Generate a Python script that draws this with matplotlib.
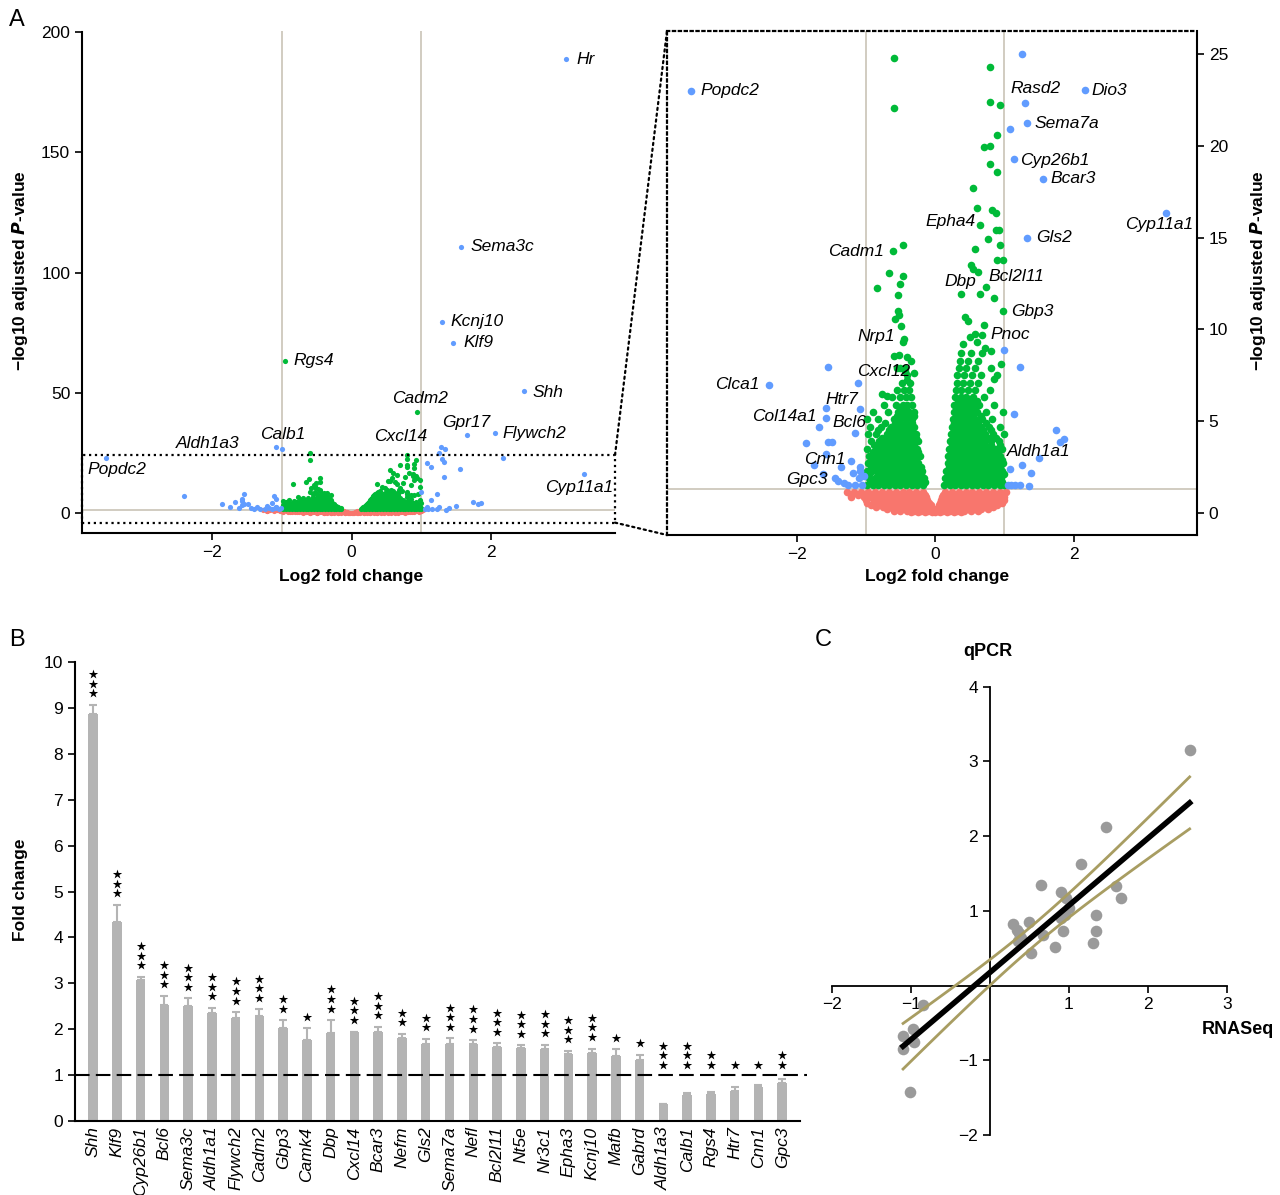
import matplotlib
matplotlib.use('Agg')
import matplotlib.pyplot as plt
import numpy as np
from matplotlib.patches import Rectangle, ConnectionPatch

plt.rcParams['font.family'] = ['Liberation Sans', 'DejaVu Sans']
plt.rcParams['axes.linewidth'] = 1.5

# ---------------- Panel A data (log2 FC, -log10 adj P) ----------------
# non-significant cloud (red), typed row by row
red_rows_y = [1.15, 1.0, 0.85, 0.7, 0.55, 0.42, 0.30, 0.2, 0.10, 0.03]
red_rows_x = [
    [-1.27, -1.17, -1.07, -0.97, -0.87, -0.77, -0.67, -0.57, -0.47, -0.37, -0.27, -0.17,
     0.14, 0.24, 0.34, 0.44, 0.54, 0.64, 0.74, 0.84, 0.94, 1.02],
    [-1.22, -1.12, -1.02, -0.92, -0.82, -0.72, -0.62, -0.52, -0.42, -0.32, -0.22, -0.14,
     0.12, 0.19, 0.29, 0.39, 0.49, 0.59, 0.69, 0.79, 0.89, 0.98],
    [-1.22, -1.03, -0.93, -0.83, -0.73, -0.63, -0.53, -0.43, -0.33, -0.23, -0.13,
     0.10, 0.20, 0.30, 0.40, 0.50, 0.60, 0.70, 0.80, 0.90, 0.99],
    [-1.00, -0.88, -0.78, -0.68, -0.58, -0.48, -0.38, -0.28, -0.18, -0.11,
     0.08, 0.15, 0.25, 0.35, 0.45, 0.55, 0.65, 0.75, 0.85, 0.95, 1.00],
    [-0.98, -0.88, -0.78, -0.68, -0.58, -0.48, -0.38, -0.28, -0.18, -0.09,
     0.07, 0.16, 0.26, 0.36, 0.46, 0.56, 0.66, 0.76, 0.86, 0.96],
    [-0.92, -0.82, -0.72, -0.62, -0.52, -0.42, -0.32, -0.22, -0.12, -0.06,
     0.06, 0.11, 0.21, 0.31, 0.41, 0.51, 0.61, 0.71, 0.81, 0.90],
    [-0.85, -0.75, -0.65, -0.55, -0.45, -0.35, -0.25, -0.15, -0.06,
     0.05, 0.14, 0.24, 0.34, 0.44, 0.54, 0.64, 0.74, 0.84],
    [-0.70, -0.60, -0.50, -0.40, -0.30, -0.20, -0.10, -0.04,
     0.02, 0.09, 0.17, 0.27, 0.37, 0.47, 0.57, 0.67, 0.77],
    [-0.60, -0.50, -0.40, -0.30, -0.20, -0.10, -0.02, 0.04, 0.12, 0.22, 0.32, 0.42, 0.52, 0.62],
    [-0.35, -0.25, -0.15, -0.05, 0.00, 0.07, 0.17, 0.27, 0.37],
]

# significant, |log2FC| < 1 (green): dense part typed in rows
green_rows_y = [1.5, 1.7, 1.9, 2.1, 2.3, 2.5, 2.7, 2.9, 3.1, 3.3, 3.5, 3.7, 3.9, 4.1, 4.3, 4.5,
                4.7, 4.9, 5.1, 5.3, 5.5, 5.7, 5.9, 6.1, 6.3, 6.7, 7.1, 7.5, 7.9, 8.3, 8.7]
green_rows_x = [
    [-0.98, -0.90, -0.82, -0.74, -0.66, -0.58, -0.50, -0.42, -0.34, -0.26, -0.18,
     0.13, 0.21, 0.29, 0.37, 0.45, 0.53, 0.61, 0.69, 0.77, 0.85, 0.93, 0.99],
    [-0.94, -0.86, -0.78, -0.70, -0.62, -0.54, -0.46, -0.38, -0.30, -0.22, -0.15,
     0.17, 0.25, 0.33, 0.41, 0.49, 0.57, 0.65, 0.73, 0.81, 0.89, 0.97],
    [-0.96, -0.87, -0.79, -0.71, -0.63, -0.55, -0.47, -0.39, -0.31, -0.23, -0.16,
     0.15, 0.23, 0.31, 0.39, 0.47, 0.55, 0.63, 0.71, 0.79, 0.87, 0.95],
    [-0.95, -0.83, -0.75, -0.67, -0.59, -0.51, -0.43, -0.35, -0.27, -0.20,
     0.19, 0.27, 0.35, 0.43, 0.51, 0.59, 0.67, 0.75, 0.83, 0.91, 0.99],
    [-0.99, -0.91, -0.83, -0.75, -0.67, -0.59, -0.51, -0.43, -0.35, -0.27, -0.19,
     0.16, 0.24, 0.32, 0.40, 0.48, 0.56, 0.64, 0.72, 0.80, 0.88, 0.97],
    [-0.93, -0.85, -0.77, -0.69, -0.61, -0.53, -0.45, -0.37, -0.29, -0.21,
     0.20, 0.28, 0.36, 0.44, 0.52, 0.60, 0.68, 0.76, 0.84, 0.93],
    [-0.97, -0.88, -0.80, -0.72, -0.64, -0.56, -0.48, -0.40, -0.32, -0.24,
     0.18, 0.26, 0.34, 0.42, 0.50, 0.58, 0.66, 0.74, 0.82, 0.90, 0.98],
    [-0.92, -0.84, -0.76, -0.68, -0.60, -0.52, -0.44, -0.36, -0.28,
     0.22, 0.30, 0.38, 0.46, 0.54, 0.62, 0.70, 0.78, 0.87, 0.96],
    [-0.95, -0.86, -0.77, -0.69, -0.61, -0.53, -0.45, -0.37, -0.29, -0.22,
     0.19, 0.27, 0.35, 0.43, 0.51, 0.59, 0.67, 0.75, 0.83, 0.93],
    [-0.90, -0.81, -0.73, -0.65, -0.57, -0.49, -0.41, -0.33, -0.25,
     0.23, 0.31, 0.39, 0.47, 0.55, 0.63, 0.71, 0.79, 0.89],
    [-0.98, -0.84, -0.75, -0.66, -0.58, -0.50, -0.42, -0.34, -0.26,
     0.20, 0.28, 0.36, 0.44, 0.52, 0.60, 0.68, 0.76, 0.86, 0.97],
    [-0.88, -0.79, -0.70, -0.62, -0.54, -0.46, -0.38, -0.30,
     0.24, 0.32, 0.40, 0.48, 0.56, 0.64, 0.72, 0.81, 0.94],
    [-0.92, -0.81, -0.72, -0.63, -0.55, -0.47, -0.39, -0.31, -0.25,
     0.22, 0.30, 0.38, 0.46, 0.54, 0.62, 0.70, 0.80, 0.92],
    [-0.76, -0.67, -0.59, -0.51, -0.43, -0.35, -0.28,
     0.26, 0.34, 0.42, 0.50, 0.58, 0.66, 0.76, 0.88],
    [-0.97, -0.86, -0.70, -0.60, -0.52, -0.44, -0.36, -0.28,
     0.23, 0.31, 0.39, 0.47, 0.55, 0.63, 0.72, 0.84, 0.99],
    [-0.82, -0.66, -0.57, -0.49, -0.41, -0.33,
     0.27, 0.35, 0.43, 0.51, 0.59, 0.69, 0.80],
    [-0.94, -0.78, -0.64, -0.55, -0.46, -0.38, -0.30,
     0.25, 0.33, 0.41, 0.49, 0.57, 0.66, 0.78, 0.93],
    [-0.72, -0.58, -0.50, -0.42, -0.34,
     0.28, 0.37, 0.45, 0.53, 0.62, 0.74],
    [-0.99, -0.83, -0.60, -0.50, -0.42, -0.33,
     0.26, 0.34, 0.42, 0.50, 0.58, 0.68, 0.82],
    [-0.55, -0.47, -0.39, -0.31,
     0.30, 0.38, 0.46, 0.55, 0.66],
    [-0.90, -0.68, -0.53, -0.45, -0.37, -0.30,
     0.27, 0.35, 0.43, 0.51, 0.60, 0.73, 0.98],
    [-0.50, -0.42,
     0.31, 0.40, 0.49, 0.58],
    [-0.74, -0.56, -0.47, -0.40, -0.33,
     0.28, 0.36, 0.44, 0.53, 0.64, 0.85],
    [0.33, 0.42, 0.51, 0.61],
    [-0.62, -0.50, -0.42, -0.35,
     0.29, 0.37, 0.45, 0.55, 0.70],
    [-0.55, -0.45, -0.38,
     0.30, 0.38, 0.47, 0.58, 0.79],
    [-0.48, -0.36,
     0.31, 0.40, 0.50, 0.62],
    [-0.41,
     0.32, 0.42, 0.53, 0.67],
    [-0.50, -0.43,
     0.34, 0.45, 0.57, 0.80],
    [-0.35,
     0.36, 0.48, 0.62],
    [0.38, 0.52, 0.68],
]

# sparse green points above the dense cloud
green_x = [-0.60, -0.60, -0.61, -0.46, -0.66, -0.46, -0.84, -0.51, -0.54, -0.53, -0.52, -0.58,
           -0.49, -0.45, -0.46, -0.60, -0.52, -0.40, -0.43, -0.40, -0.77, -0.70, -0.55, -0.30,
           0.79, 0.79, 0.93, 0.90, 0.70, 0.79, 0.79, 0.90, 0.55, 0.60, 0.82, 0.88, 0.65, 0.88,
           0.92, 0.77, 0.94, 0.58, 0.90, 0.98, 0.52, 0.55, 0.62, 0.37, 0.65, 0.74, 0.85, 0.98,
           0.43, 0.48, 0.70, 0.57, 0.68, 0.40, 0.60, 0.72, 0.80, 0.50, 0.95, 0.90, 0.85,
           -0.95, 0.94]
green_y = [24.8, 22.06, 14.29, 14.58, 13.08, 12.9, 12.25, 12.46, 11.86, 11.0, 10.8, 10.56,
           10.2, 9.5, 9.3, 8.57, 8.6, 8.5, 7.74, 7.25, 6.47, 6.37, 7.9, 7.6,
           24.3, 22.4, 22.2, 20.6, 19.95, 20.0, 19.0, 18.56, 17.7, 16.6, 16.5, 16.35, 15.67, 15.4,
           15.4, 14.9, 14.6, 14.4, 13.8, 13.8, 13.5, 13.3, 13.1, 11.9, 11.9, 12.3, 11.7, 11.0,
           10.65, 10.45, 10.26, 9.74, 9.68, 9.2, 9.3, 9.0, 8.8, 9.6, 8.1, 7.5, 7.3,
           63.3, 42.0]

# |log2FC| >= 1 (blue)
blue_x = [-3.53, -2.40, -1.54, -1.12, -1.58, -1.09, -1.58, -1.67, -1.15, -1.86, -1.54, -1.49,
          -1.57, -1.21, -1.36, -1.09, -1.08, -1.45, -1.40, -1.32, -1.25, -1.15, -1.05, -1.02,
          -1.10, -1.18, -1.75, -1.62,
          1.26, 1.30, 2.17, 1.33, 1.08, 1.14, 1.56, 3.33, 1.32, 0.99, 1.23, 1.14, 1.74, 1.86,
          1.81, 1.50, 1.26, 1.08, 1.39, 1.05, 1.10, 1.16, 1.22, 1.36,
          3.08, 1.57, 1.29, 1.45, 2.47, 1.65, 2.06, -1.08, -1.00, 1.28, 1.34]
blue_y = [23.0, 6.96, 7.93, 7.06, 5.70, 5.64, 5.17, 4.67, 4.33, 3.81, 3.85, 3.89,
          3.23, 2.84, 2.49, 2.49, 2.30, 1.90, 1.75, 1.65, 1.55, 1.50, 1.55, 2.00,
          1.90, 2.20, 2.60, 2.10,
          25.0, 22.3, 23.05, 21.25, 20.9, 19.3, 18.2, 16.35, 14.97, 8.9, 7.97, 5.37, 4.53, 4.04,
          3.85, 3.0, 2.59, 2.39, 2.16, 1.55, 1.50, 1.55, 1.50, 1.45,
          188.8, 110.8, 79.6, 70.8, 50.8, 32.5, 33.2, 27.5, 26.5, 27.6, 26.8]

# gene labels, left (full) panel
labL_text = ['Hr', 'Sema3c', 'Kcnj10', 'Klf9', 'Rgs4', 'Shh', 'Cadm2', 'Gpr17', 'Flywch2',
             'Calb1', 'Aldh1a3', 'Cxcl14', 'Popdc2', 'Cyp11a1']
labL_x = [3.22, 1.71, 1.42, 1.60, -0.83, 2.59, 0.98, 1.65, 2.17, -0.99, -2.06, 0.70, -3.37, 3.27]
labL_y = [188.8, 110.8, 79.6, 70.8, 63.3, 50.0, 47.5, 37.5, 32.9, 32.5, 28.75, 32.0, 17.9, 10.8]
labL_ha = ['left', 'left', 'left', 'left', 'left', 'left', 'center', 'center', 'left',
           'center', 'center', 'center', 'center', 'center']

# gene labels, zoomed panel
labR_text = ['Popdc2', 'Rasd2', 'Dio3', 'Sema7a', 'Cyp26b1', 'Bcar3', 'Cyp11a1', 'Epha4', 'Gls2',
             'Cadm1', 'Bcl2l11', 'Dbp', 'Gbp3', 'Pnoc', 'Nrp1', 'Cxcl12', 'Clca1', 'Htr7',
             'Col14a1', 'Bcl6', 'Aldh1a1', 'Cnn1', 'Gpc3']
labR_x = [-3.38, 1.45, 2.26, 1.44, 1.23, 1.67, 3.23, 0.22, 1.46, -1.14, 1.17, 0.37, 1.10, 0.80,
          -0.85, -0.74, -2.85, -1.34, -2.18, -1.24, 1.49, -1.60, -1.85]
labR_y = [23.0, 23.1, 23.0, 21.2, 19.2, 18.2, 15.7, 15.9, 15.0, 14.25, 12.9, 12.6, 10.95, 9.7,
          9.6, 7.7, 7.0, 6.2, 5.25, 4.9, 3.35, 2.9, 1.8]
labR_ha = ['left', 'center', 'left', 'left', 'left', 'left', 'center', 'center', 'left',
           'center', 'center', 'center', 'left', 'left', 'center', 'center', 'center', 'center',
           'center', 'center', 'center', 'center', 'center']

# ---------------- Panel B data ----------------
genesB = ['Shh', 'Klf9', 'Cyp26b1', 'Bcl6', 'Sema3c', 'Aldh1a1', 'Flywch2', 'Cadm2', 'Gbp3',
          'Camk4', 'Dbp', 'Cxcl14', 'Bcar3', 'Nefm', 'Gls2', 'Sema7a', 'Nefl', 'Bcl2l11', 'Nt5e',
          'Nr3c1', 'Epha3', 'Kcnj10', 'Mafb', 'Gabrd', 'Aldh1a3', 'Calb1', 'Rgs4', 'Htr7',
          'Cnn1', 'Gpc3']
foldB = [8.86, 4.34, 3.07, 2.52, 2.50, 2.35, 2.25, 2.29, 2.02, 1.76, 1.91, 1.94, 1.93, 1.80,
         1.67, 1.67, 1.67, 1.62, 1.60, 1.56, 1.46, 1.48, 1.42, 1.34, 0.37, 0.56, 0.58, 0.66,
         0.75, 0.82]
errtopB = [9.07, 4.71, 3.14, 2.73, 2.67, 2.47, 2.37, 2.43, 2.20, 2.02, 2.20, 1.95, 2.05, 1.90,
           1.79, 1.80, 1.76, 1.69, 1.65, 1.66, 1.53, 1.58, 1.56, 1.44, 0.38, 0.60, 0.63, 0.75,
           0.78, 0.91]
starsB = [3, 3, 3, 3, 3, 3, 3, 3, 2, 1, 3, 3, 3, 2, 2, 3, 3, 3, 3, 3, 3, 3, 1, 1, 3, 3, 2, 1, 1, 2]

# ---------------- Panel C data ----------------
rnaseq = [2.53, 1.47, 1.16, 0.65, 0.90, 0.96, 1.60, 1.66, 0.95, 0.90, 1.00, 1.35, 1.35, 0.92,
          1.31, 0.82, 0.52, 0.67, 0.49, 0.29, 0.34, 0.37, 0.39, 0.35,
          -0.85, -0.97, -1.10, -0.96, -1.10, -1.01]
qpcr = [3.15, 2.12, 1.62, 1.34, 1.25, 1.17, 1.33, 1.17, 0.95, 0.91, 1.04, 0.95, 0.73, 0.73,
        0.57, 0.51, 0.44, 0.68, 0.85, 0.82, 0.75, 0.70, 0.64, 0.60,
        -0.26, -0.58, -0.68, -0.76, -0.85, -1.43]

# ---------------- colours ----------------
C_RED, C_GREEN, C_BLUE = '#F8766D', '#00BA38', '#619CFF'
C_GUIDE = '#c9c4b6'

fig = plt.figure(figsize=(12.8, 11.95), dpi=100)

red_x = [x for xs in red_rows_x for x in xs]
red_y = [y for y, xs in zip(red_rows_y, red_rows_x) for _ in xs]
gd_x = [x for xs in green_rows_x for x in xs] + green_x
gd_y = [y for y, xs in zip(green_rows_y, green_rows_x) for _ in xs] + green_y

XLIM = (-3.87, 3.78)

# ---------------- Panel A left ----------------
axL = fig.add_axes([0.0641, 0.554, 0.4164, 0.42])
axL.set_xlim(*XLIM)
axL.set_ylim(-8.3, 200.5)
for v in (-1, 1):
    axL.axvline(v, color=C_GUIDE, lw=1.2, zorder=0)
axL.axhline(1.3, color=C_GUIDE, lw=1.2, zorder=0)
axL.scatter(red_x, red_y, s=14, color=C_RED, lw=0, zorder=2)
axL.scatter(gd_x, gd_y, s=14, color=C_GREEN, lw=0, zorder=3)
axL.scatter(blue_x, blue_y, s=14, color=C_BLUE, lw=0, zorder=4)
for t, x, y, ha in zip(labL_text, labL_x, labL_y, labL_ha):
    axL.text(x, y, t, ha=ha, va='center', fontsize=12.5, style='italic')
axL.spines['top'].set_visible(False)
axL.spines['right'].set_visible(False)
axL.spines['left'].set_bounds(-8.3, 200)
axL.set_xticks([-2, 0, 2])
axL.set_yticks([0, 50, 100, 150, 200])
axL.tick_params(labelsize=12.5, width=1.2, length=5)
rect = Rectangle((XLIM[0], -4.0), XLIM[1] - XLIM[0], 28.2, fill=False, ls=':', lw=1.6,
                 color='black', clip_on=False, zorder=5)
axL.add_patch(rect)

# ---------------- Panel A right (zoom) ----------------
axR = fig.add_axes([0.5211, 0.5523, 0.414, 0.4218])
axR.set_xlim(*XLIM)
axR.set_ylim(-1.2, 26.25)
for v in (-1, 1):
    axR.axvline(v, color=C_GUIDE, lw=1.2, zorder=0)
axR.axhline(1.3, color=C_GUIDE, lw=1.2, zorder=0)
axR.scatter(red_x, red_y, s=30, color=C_RED, lw=0, zorder=2)
axR.scatter(gd_x, gd_y, s=30, color=C_GREEN, lw=0, zorder=3)
axR.scatter(blue_x, blue_y, s=30, color=C_BLUE, lw=0, zorder=4)
for t, x, y, ha in zip(labR_text, labR_x, labR_y, labR_ha):
    axR.text(x, y, t, ha=ha, va='center', fontsize=12.5, style='italic', zorder=6)
axR.spines['top'].set_linestyle(':')
axR.spines['left'].set_linestyle(':')
axR.spines['top'].set_linewidth(1.6)
axR.spines['left'].set_linewidth(1.6)
axR.yaxis.tick_right()
axR.set_xticks([-2, 0, 2])
axR.set_yticks([0, 5, 10, 15, 20, 25])
axR.tick_params(labelsize=12.5, width=1.2, length=5)
axR.tick_params(axis='y', left=False)

for (xa, ya), yb in (((XLIM[1], 24.2), 1.0), ((XLIM[1], -4.0), 0.0)):
    cp = ConnectionPatch(xyA=(xa, ya), coordsA=axL.transData, xyB=(0, yb), coordsB=axR.transAxes,
                         ls=':', lw=1.6, color='black')
    fig.add_artist(cp)

ylab = '−log10 adjusted $\\mathbfit{P}$-value'
fig.text(0.016, 0.774, ylab, rotation=90, ha='center', va='center', fontsize=12.5, fontweight='bold')
fig.text(0.983, 0.774, ylab, rotation=90, ha='center', va='center', fontsize=12.5, fontweight='bold')
fig.text(351 / 1280, 1 - 577 / 1195, 'Log2 fold change', ha='center', va='center', fontsize=12.5,
         fontweight='bold')
fig.text(937 / 1280, 1 - 577 / 1195, 'Log2 fold change', ha='center', va='center', fontsize=12.5,
         fontweight='bold')

# ---------------- Panel B ----------------
axB = fig.add_axes([0.0586, 0.0619, 0.5664, 0.3841])
xb = np.arange(len(genesB))
axB.bar(xb, foldB, width=0.4, color='#b4b4b4', zorder=2)
axB.errorbar(xb, foldB, yerr=[np.zeros(len(foldB)), np.array(errtopB) - np.array(foldB)],
             fmt='none', ecolor='#b4b4b4', elinewidth=1.5, capsize=3, capthick=1.5, zorder=2)
axB.axhline(1, color='black', lw=1.5, dashes=(7, 3), zorder=3, xmax=1.01, clip_on=False)
for i, (top, n) in enumerate(zip(errtopB, starsB)):
    base = max(top, 0.97) + 0.25
    axB.scatter([i] * n, [base + 0.21 * k for k in range(n)], marker='*', s=50, color='black',
                lw=0, zorder=4)
axB.set_xlim(-0.76, 29.75)
axB.set_ylim(0, 10)
axB.set_yticks(range(0, 11))
axB.set_xticks(xb)
axB.set_xticklabels(genesB, rotation=90, style='italic', fontsize=12.5)
axB.tick_params(axis='x', length=0, pad=4)
axB.tick_params(axis='y', labelsize=12.5, width=1.2, length=5)
axB.spines['top'].set_visible(False)
axB.spines['right'].set_visible(False)
fig.text(0.016, 1 - 890 / 1195, 'Fold change', rotation=90, ha='center', va='center',
         fontsize=12.5, fontweight='bold')

# ---------------- Panel C ----------------
axC = fig.add_axes([0.65, 0.0502, 0.3084, 0.3752])
axC.set_xlim(-2, 3)
axC.set_ylim(-2, 4)
rx = np.array(rnaseq)
qy = np.array(qpcr)
slope, icpt = np.polyfit(rx, qy, 1)
xs = np.linspace(rx.min(), rx.max(), 100)
fit = slope * xs + icpt
n = len(rx)
resid = qy - (slope * rx + icpt)
s_err = np.sqrt(np.sum(resid ** 2) / (n - 2))
sxx = np.sum((rx - rx.mean()) ** 2)
half = 2.048 * s_err * np.sqrt(1 / n + (xs - rx.mean()) ** 2 / sxx)
axC.scatter(rx, qy, s=70, color='#9a9a9a', lw=0, zorder=2)
axC.plot(xs, fit + half, color='#a89d62', lw=2, zorder=3)
axC.plot(xs, fit - half, color='#a89d62', lw=2, zorder=3)
axC.plot(xs, fit, color='black', lw=4, zorder=4)
axC.spines['left'].set_position(('data', 0))
axC.spines['bottom'].set_position(('data', 0))
axC.spines['top'].set_visible(False)
axC.spines['right'].set_visible(False)
axC.spines['left'].set_linewidth(1.3)
axC.spines['bottom'].set_linewidth(1.3)
axC.set_xticks([-2, -1, 1, 2, 3])
axC.set_yticks([-2, -1, 1, 2, 3, 4])
axC.tick_params(labelsize=12.5, width=1.2, length=5)
fig.text(988 / 1280, 1 - 652 / 1195, 'qPCR', ha='center', va='center', fontsize=13, fontweight='bold')
fig.text(1238 / 1280, 1 - 1030 / 1195, 'RNASeq', ha='center', va='center', fontsize=13,
         fontweight='bold')

# panel letters
fig.text(0.007, 0.983, 'A', fontsize=17, va='center')
fig.text(0.007, 1 - 640 / 1195, 'B', fontsize=17, va='center')
fig.text(815 / 1280, 1 - 640 / 1195, 'C', fontsize=17, va='center')

fig.savefig('out.png', dpi=100)
